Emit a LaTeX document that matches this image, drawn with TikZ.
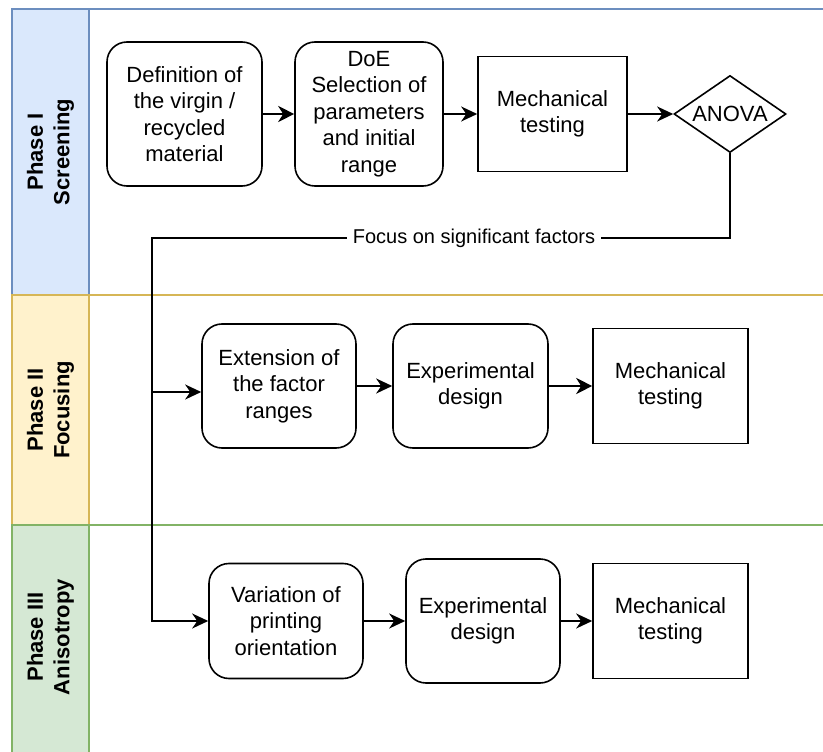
\documentclass[tikz,border=0pt]{standalone}
\usepackage{fontspec}
\setmainfont{Liberation Sans}
\usetikzlibrary{arrows.meta,shapes.geometric}
\definecolor{blueF}{HTML}{DAE8FC}
\definecolor{blueS}{HTML}{6C8EBF}
\definecolor{yelF}{HTML}{FFF2CC}
\definecolor{yelS}{HTML}{D6B656}
\definecolor{grnF}{HTML}{D5E8D4}
\definecolor{grnS}{HTML}{82B366}
\begin{document}
\begin{tikzpicture}[x=1pt,y=-1pt,
  box/.style={draw, line width=1.6pt, align=center, inner sep=0pt, text=black,
    font=\fontsize{22}{26.5}\selectfont},
  rbox/.style={box, rounded corners=20pt},
  arr/.style={line width=1.6pt, -{Stealth[length=16pt,width=15pt,inset=5pt]}},
  thickarr/.style={line width=2.6pt, -{Stealth[length=16pt,width=16pt,inset=5pt]}},
  hdr/.style={align=center, rotate=90, inner sep=0pt, font=\bfseries\fontsize{22}{26.5}\selectfont},
  lane/.style={line width=1.5pt}
]
\useasboundingbox (0,0) rectangle (823,752);
\clip (0,0) rectangle (823,752);

% swimlanes
\draw[lane, draw=blueS] (12,9) rectangle (850,295);
\filldraw[lane, draw=blueS, fill=blueF] (12,9) rectangle (89,295);
\draw[lane, draw=yelS] (12,295) rectangle (850,525);
\filldraw[lane, draw=yelS, fill=yelF] (12,295) rectangle (89,525);
\draw[lane, draw=grnS] (12,525) rectangle (850,780);
\filldraw[lane, draw=grnS, fill=grnF] (12,525) rectangle (89,780);

\node[hdr] (h1) at (50.5,152) {Phase I\\Screening};
\node[hdr] (h2) at (50.5,410) {Phase II\\Focusing};
\node[hdr] (h3) at (50.5,637) {Phase III\\Anisotropy};

% Phase I
\node[rbox, minimum width=155pt, minimum height=144pt] (def) at (184.5,114) {Definition of\\the virgin /\\recycled\\material};
\node[rbox, minimum width=148pt, minimum height=144pt] (doe) at (369,114) {DoE\\Selection of\\parameters\\and initial\\range};
\node[box, minimum width=149pt, minimum height=115pt] (mt1) at (552.5,114) {Mechanical\\testing};
\node[diamond, draw, line width=1.6pt, minimum width=112pt, minimum height=77pt, inner sep=0pt] (anova) at (730,114) {};
\node[font=\fontsize{22}{26.5}\selectfont, inner sep=0pt] (anovatext) at (anova.center) {ANOVA};

% Phase II
\node[rbox, minimum width=154pt, minimum height=124pt] (ext) at (279,386) {Extension of\\the factor\\ranges};
\node[rbox, minimum width=155pt, minimum height=124pt] (exp2) at (470.5,386) {Experimental\\design};
\node[box, minimum width=155pt, minimum height=115pt] (mt2) at (670.5,386) {Mechanical\\testing};

% Phase III
\node[rbox, minimum width=154pt, minimum height=115pt] (var) at (286,621) {Variation of\\printing\\orientation};
\node[rbox, minimum width=154pt, minimum height=124pt] (exp3) at (483,621) {Experimental\\design};
\node[box, minimum width=155pt, minimum height=115pt] (mt3) at (670.5,621) {Mechanical\\testing};

% connectors
\draw[thickarr] (def) -- (doe);
\draw[arr] (doe) -- (mt1);
\draw[arr] (mt1) -- (anova);

\coordinate (c1) at (152,238);
\coordinate (c2) at (152,392);
\draw[line width=1.6pt] (anova.south) |- (c1) -- (c2);
\draw[arr] (c2) -- (c2 -| ext.west);
\draw[arr] (c2) |- (var.west);
\node[fill=white, inner xsep=6pt, inner ysep=2pt, font=\fontsize{20}{24}\selectfont] (focus) at (474,238) {Focus on significant factors};

\draw[arr] (ext) -- (exp2);
\draw[thickarr] (exp2) -- (mt2);
\draw[arr] (var) -- (exp3);
\draw[arr] (exp3) -- (mt3);
\end{tikzpicture}
\end{document}
